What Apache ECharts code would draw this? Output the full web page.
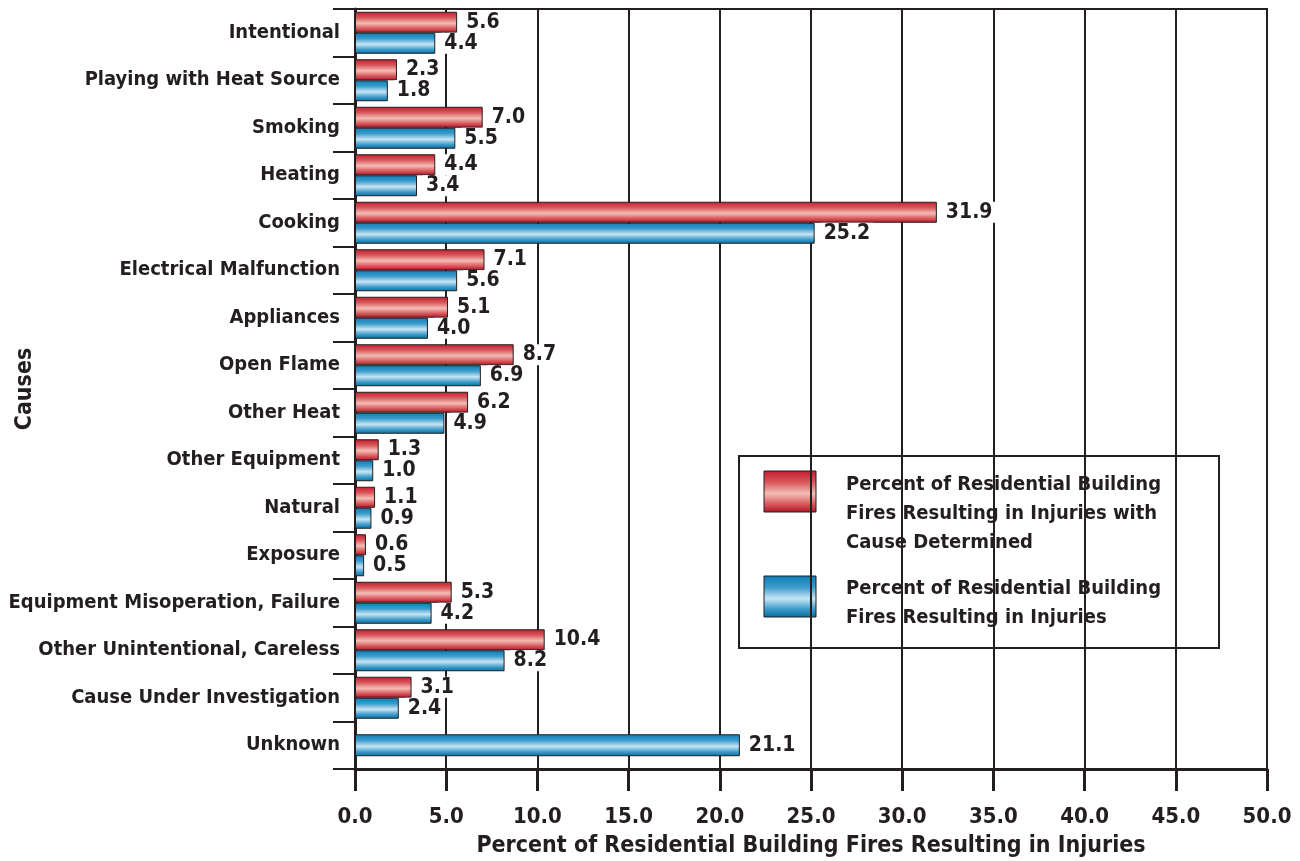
<!DOCTYPE html>
<html>
<head>
<meta charset="utf-8">
<title>Residential building fires resulting in injuries by cause</title>
<script src="https://cdn.jsdelivr.net/npm/echarts@6/dist/echarts.min.js"></script>
<style>
  html, body { margin: 0; padding: 0; background: #fff; }
  #chart { width: 1300px; height: 861px; }
</style>
</head>
<body>
<div id="chart"></div>
<script>
const causes = [
  'Intentional', 'Playing with Heat Source', 'Smoking', 'Heating', 'Cooking',
  'Electrical Malfunction', 'Appliances', 'Open Flame', 'Other Heat',
  'Other Equipment', 'Natural', 'Exposure', 'Equipment Misoperation, Failure',
  'Other Unintentional, Careless', 'Cause Under Investigation', 'Unknown'
]
// '-' = no bar for that cause
const withCause = [5.6, 2.3, 7.0, 4.4, 31.9, 7.1, 5.1, 8.7, 6.2, 1.3, 1.1, 0.6, 5.3, 10.4, 3.1, '-']
const allFires = [4.4, 1.8, 5.5, 3.4, 25.2, 5.6, 4.0, 6.9, 4.9, 1.0, 0.9, 0.5, 4.2, 8.2, 2.4, '-']
// Unknown only has the overall value, drawn centred in its row
const unknownOnly = ['-', '-', '-', '-', '-', '-', '-', '-', '-', '-', '-', '-', '-', '-', '-', 21.1]

const xTicks = { min: 0, max: 50, interval: 5 }

const nameRed = 'Percent of Residential Building\nFires Resulting in Injuries with\nCause Determined'
const nameBlue = 'Percent of Residential Building\nFires Resulting in Injuries'

const FONT = "'Liberation Sans Narrow', 'DejaVu Sans Condensed', sans-serif"
const INK = '#231f20'

const tube = (edge, half, mid, edge2) => new echarts.graphic.LinearGradient(0, 0, 0, 1, [
  { offset: 0, color: edge },
  { offset: 0.28, color: half },
  { offset: 0.55, color: mid },
  { offset: 0.8, color: half },
  { offset: 1, color: edge2 }
])
const redFill = tube('#c41a2c', '#d8585c', '#f3bdb5', '#b51226')
const blueFill = tube('#0a7db6', '#3c9ccc', '#c8e5f3', '#056c9c')

const valueLabel = {
  show: true,
  position: 'right',
  distance: 6,
  color: INK,
  fontFamily: FONT,
  fontWeight: 'bold',
  fontSize: 21,
  backgroundColor: '#fff',
  padding: [0, 3, 0, 3],
  formatter: p => p.value.toFixed(1)
}

const chart = echarts.init(document.getElementById('chart'))

chart.setOption({
  animation: false,
  textStyle: { fontFamily: FONT },
  grid: {
    left: 355, right: 33, top: 9, bottom: 92,
    containLabel: false,
    outerBoundsMode: 'none',
    show: true, borderColor: INK, borderWidth: 2, backgroundColor: 'transparent'
  },
  legend: { show: false },
  graphic: [
    {
      type: 'group',
      left: 738,
      top: 455,
      z: 100,
      children: [
        {
          type: 'rect',
          shape: { x: 0, y: 0, width: 480, height: 192 },
          style: { fill: '#fff', stroke: INK, lineWidth: 2 }
        },
        {
          type: 'rect',
          shape: { x: 25, y: 15, width: 52, height: 41 },
          style: { fill: redFill, stroke: INK, lineWidth: 1 }
        },
        {
          type: 'text',
          x: 107, y: 14,
          style: {
            text: nameRed, fill: INK, fontFamily: FONT, fontWeight: 'bold',
            fontSize: 20, lineHeight: 29
          }
        },
        {
          type: 'rect',
          shape: { x: 25, y: 120, width: 52, height: 41 },
          style: { fill: blueFill, stroke: INK, lineWidth: 1 }
        },
        {
          type: 'text',
          x: 107, y: 118,
          style: {
            text: nameBlue, fill: INK, fontFamily: FONT, fontWeight: 'bold',
            fontSize: 20, lineHeight: 29
          }
        }
      ]
    }
  ],
  xAxis: {
    type: 'value',
    min: xTicks.min,
    max: xTicks.max,
    interval: xTicks.interval,
    name: 'Percent of Residential Building Fires Resulting in Injuries',
    nameLocation: 'middle',
    nameGap: 66,
    nameMoveOverlap: false,
    nameTextStyle: { color: INK, fontFamily: FONT, fontWeight: 'bold', fontSize: 23 },
    axisLine: { show: true, lineStyle: { color: INK, width: 3 } },
    axisTick: { show: true, length: 22, lineStyle: { color: INK, width: 3 } },
    axisLabel: {
      color: INK, fontFamily: FONT, fontWeight: 'bold', fontSize: 22, margin: 37,
      formatter: v => v.toFixed(1)
    },
    splitLine: { show: true, lineStyle: { color: INK, width: 2 } }
  },
  yAxis: [
    {
      type: 'category',
      inverse: true,
      data: causes,
      name: 'Causes',
      nameLocation: 'middle',
      nameRotate: 90,
      nameGap: 318,
      nameMoveOverlap: false,
      nameTextStyle: { color: INK, fontFamily: FONT, fontWeight: 'bold', fontSize: 23 },
      axisLine: { show: true, lineStyle: { color: INK, width: 3 } },
      axisTick: { show: true, length: 22, lineStyle: { color: INK, width: 2 } },
      axisLabel: { color: INK, fontFamily: FONT, fontWeight: 'bold', fontSize: 20, margin: 15 }
    },
    {
      type: 'category',
      inverse: true,
      data: causes,
      show: false
    }
  ],
  series: [
    {
      name: nameRed,
      type: 'bar',
      data: withCause,
      barWidth: 21,
      barGap: 0,
      itemStyle: { color: redFill, borderColor: INK, borderWidth: 1 },
      label: valueLabel
    },
    {
      name: nameBlue,
      type: 'bar',
      data: allFires,
      barWidth: 21,
      barGap: 0,
      itemStyle: { color: blueFill, borderColor: INK, borderWidth: 1 },
      label: valueLabel
    },
    {
      name: nameBlue,
      type: 'bar',
      yAxisIndex: 1,
      data: unknownOnly,
      barWidth: 22,
      itemStyle: { color: blueFill, borderColor: INK, borderWidth: 1 },
      label: valueLabel
    }
  ]
})
</script>
</body>
</html>
